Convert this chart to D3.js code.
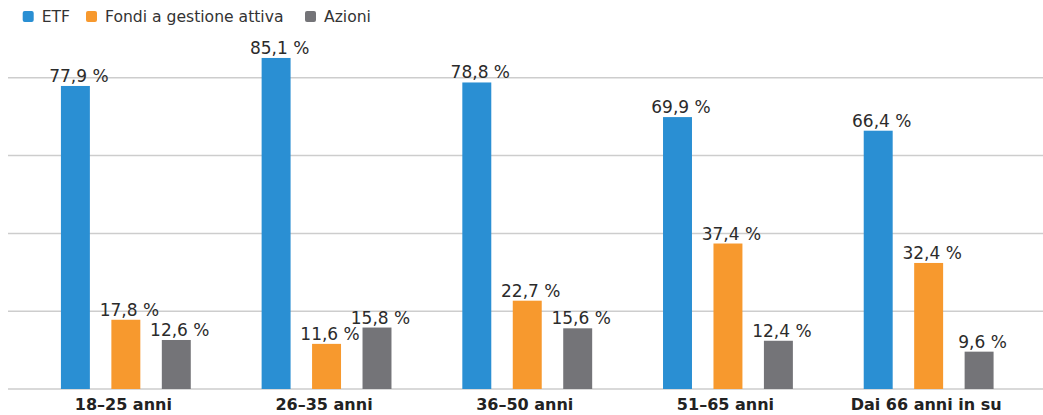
<!DOCTYPE html>
<html>
<head>
<meta charset="utf-8">
<script src="https://cdn.jsdelivr.net/npm/d3@7"></script>
<style>
  html, body { margin: 0; padding: 0; background: #fff; }
  svg { display: block; }
  text { font-family: "DejaVu Sans", sans-serif; }
</style>
</head>
<body>
<svg id="chart" width="1043" height="415"></svg>
<script>
// Age groups and the share of each investment type per group (%)
const categories = ["18–25 anni", "26–35 anni", "36–50 anni", "51–65 anni", "Dai 66 anni in su"];
const seriesNames = ["ETF", "Fondi a gestione attiva", "Azioni"];
const etf = [77.9, 85.1, 78.8, 69.9, 66.4];
const fondi = [17.8, 11.6, 22.7, 37.4, 32.4];
const azioni = [12.6, 15.8, 15.6, 12.4, 9.6];
const gridTicks = [0, 20, 40, 60, 80];
const colors = ["#2a8fd3", "#f7992e", "#747478"];

const seriesValues = [etf, fondi, azioni];
const rows = categories.map((c, i) => ({
  category: c,
  values: seriesNames.map((s, j) => ({ series: s, value: seriesValues[j][i] }))
}));

const svg = d3.select("#chart");
const W = 1043, H = 415;

const y = d3.scaleLinear().domain([0, 100]).range([389, 0]);
const x0 = d3.scaleBand().domain(categories).range([25.5, 1029])
  .paddingInner(0.353).paddingOuter(0.1765);
const x1 = d3.scaleBand().domain(seriesNames).range([0, x0.bandwidth()])
  .paddingInner(0.426).paddingOuter(0);
const color = d3.scaleOrdinal().domain(seriesNames).range(colors);
const fmt = v => d3.format(".1f")(v).replace(".", ",") + " %";

// horizontal gridlines
svg.append("g").selectAll("line").data(gridTicks).join("line")
  .attr("x1", 8).attr("x2", W)
  .attr("y1", d => y(d)).attr("y2", d => y(d))
  .attr("stroke", "#cdcdcd").attr("stroke-width", 1.5);

// bars
const groups = svg.append("g").selectAll("g").data(rows).join("g")
  .attr("transform", d => `translate(${x0(d.category)},0)`);

groups.selectAll("rect").data(d => d.values).join("rect")
  .attr("x", d => x1(d.series))
  .attr("width", x1.bandwidth())
  .attr("y", d => y(d.value))
  .attr("height", d => y(0) - y(d.value))
  .attr("fill", d => color(d.series));

// value labels
groups.selectAll("text").data(d => d.values).join("text")
  .attr("x", d => x1(d.series) + x1.bandwidth() / 2 + 3.5)
  .attr("y", d => y(d.value) - 4)
  .attr("text-anchor", "middle")
  .attr("font-size", 17)
  .attr("fill", "#2b2b2b")
  .text(d => fmt(d.value));

// category axis
const xAxis = svg.append("g").attr("transform", `translate(0,${y(0)})`)
  .call(d3.axisBottom(x0).tickSize(0).tickPadding(0));
xAxis.select(".domain").remove();
xAxis.selectAll("text")
  .attr("dy", 0).attr("y", 20.5).attr("dx", -2.5)
  .attr("font-family", "DejaVu Sans, sans-serif")
  .attr("font-size", 16).attr("font-weight", "bold").attr("fill", "#222");

// legend
const legend = svg.append("g").attr("transform", "translate(0,0)");
const legendX = [22.7, 86, 305];
seriesNames.forEach((s, i) => {
  const g = legend.append("g").attr("transform", `translate(${legendX[i]},11)`);
  g.append("rect").attr("width", 11).attr("height", 11).attr("rx", 2)
    .attr("fill", color(s));
  g.append("text").attr("x", 19).attr("y", 11)
    .attr("font-size", 15.6).attr("fill", "#333").text(s);
});
</script>
</body>
</html>
